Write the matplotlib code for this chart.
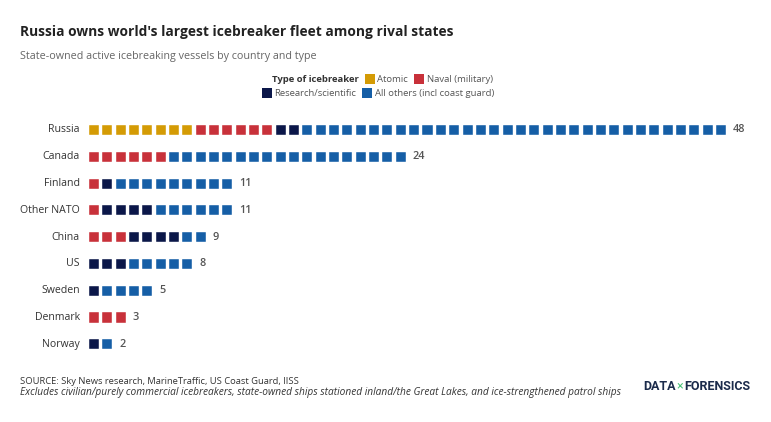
import matplotlib
matplotlib.use("Agg")
import matplotlib.pyplot as plt
from matplotlib.patches import Rectangle

countries = ["Russia", "Canada", "Finland", "Other NATO", "China", "US", "Sweden", "Denmark", "Norway"]
types = ["Atomic", "Naval (military)", "Research/scientific", "All others (incl coast guard)"]
atomic = [8, 0, 0, 0, 0, 0, 0, 0, 0]
naval = [6, 6, 1, 1, 3, 0, 0, 3, 0]
research = [2, 0, 1, 4, 4, 3, 1, 0, 1]
others = [32, 18, 9, 6, 2, 5, 4, 0, 1]
colors = ["#D49B05", "#C8313A", "#0B1749", "#155EA6"]

W, H = 771, 422
plt.rcParams['font.family'] = ['Open Sans', 'DejaVu Sans']
fig = plt.figure(figsize=(W / 100, H / 100), dpi=100)
fig.canvas.draw()
renderer = fig.canvas.get_renderer()


def fx(px):
    return px / W


def fy(py):
    return 1 - py / H


def width_px(t):
    return t.get_window_extent(renderer).width


def fit_text(x, y, s, target, size, **kw):
    t = fig.text(fx(x), fy(y), s, fontsize=size, va="center", **kw)
    w = width_px(t)
    t.set_fontsize(size * target / w)
    return t


# waffle axes
c0, step = 94.0, 13.34
left_px, right_px = c0 - step / 2, c0 + 47.5 * step
top_px, bot_px = 130 - 13.4, 344.3 + 13.4
ax = fig.add_axes([fx(left_px), fy(bot_px), fx(right_px - left_px), (bot_px - top_px) / H])
ax.set_xlim(-0.5, 47.5)
ax.set_ylim(8.5, -0.5)
ax.axis("off")

sw, sh = 0.75, 0.375
for r, c in enumerate(countries):
    seq = []
    for k, arr in enumerate([atomic, naval, research, others]):
        seq += [k] * arr[r]
    for i, k in enumerate(seq):
        ax.add_patch(Rectangle((i - sw / 2, r - sh / 2), sw, sh, facecolor=colors[k],
                               edgecolor="#ffffff", linewidth=0.3))
    total = len(seq)
    ax.text(total - 0.5 + 0.4, r, str(total), ha="left", va="center", fontsize=7.8,
            color="#555555", fontweight="semibold")
    ax.text(-0.5 - 0.55, r, c, ha="right", va="center", fontsize=7.6, color="#333333",
            clip_on=False)

# titles
fit_text(20, 32, "Russia owns world's largest icebreaker fleet among rival states", 429, 11,
         fontweight="bold", color="#222222")
fit_text(20, 56, "State-owned active icebreaking vessels by country and type", 294, 8.5,
         color="#666666")

# legend
lsize = 6.8
t = fig.text(fx(272), fy(79), "Type of icebreaker", fontsize=lsize, fontweight="bold",
             color="#333333", ha="left", va="center")
rows = [(272 + width_px(t) + 6, 79, [0, 1]), (262, 93, [2, 3])]
for (x, ly, ks) in rows:
    for k in ks:
        fig.patches.append(Rectangle((fx(x), fy(ly + 5)), 10 / W, 10 / H, facecolor=colors[k],
                                     transform=fig.transFigure, figure=fig))
        name = "Atomic" if k == 0 else types[k]
        tt = fig.text(fx(x + 12.5), fy(ly), name, fontsize=lsize, color="#555555", va="center")
        x = x + 12.5 + width_px(tt) + 6

# footer
fit_text(20, 381, "SOURCE: Sky News research, MarineTraffic, US Coast Guard, IISS", 283, 6.8,
         color="#333333")
fit_text(20, 393, "Excludes civilian/purely commercial icebreakers, state-owned ships stationed inland/the Great Lakes, and ice-strengthened patrol ships",
         604, 6.8, color="#333333", style="italic")

# logo (fit to ~108 px wide)
lfam = ["Roboto", "DejaVu Sans"]
parts = [("DATA", "#1B2B4B", "bold"), ("×", "#4CC27A", "normal"), ("FORENSICS", "#1B2B4B", "bold")]
base = 10.0
probe = [fig.text(0, 0, s, fontsize=base, fontweight=wt, family=lfam) for s, _, wt in parts]
tot = sum(width_px(p) for p in probe) + 2
for p in probe:
    p.remove()
lf = base * 108 / tot
x = 643
for s, col, wt in parts:
    tt = fig.text(fx(x), fy(386), s, fontsize=lf, fontweight=wt, color=col, va="center",
                  ha="left", family=lfam)
    x += width_px(tt) + 1

fig.savefig("out.png", dpi=100, facecolor="white")
